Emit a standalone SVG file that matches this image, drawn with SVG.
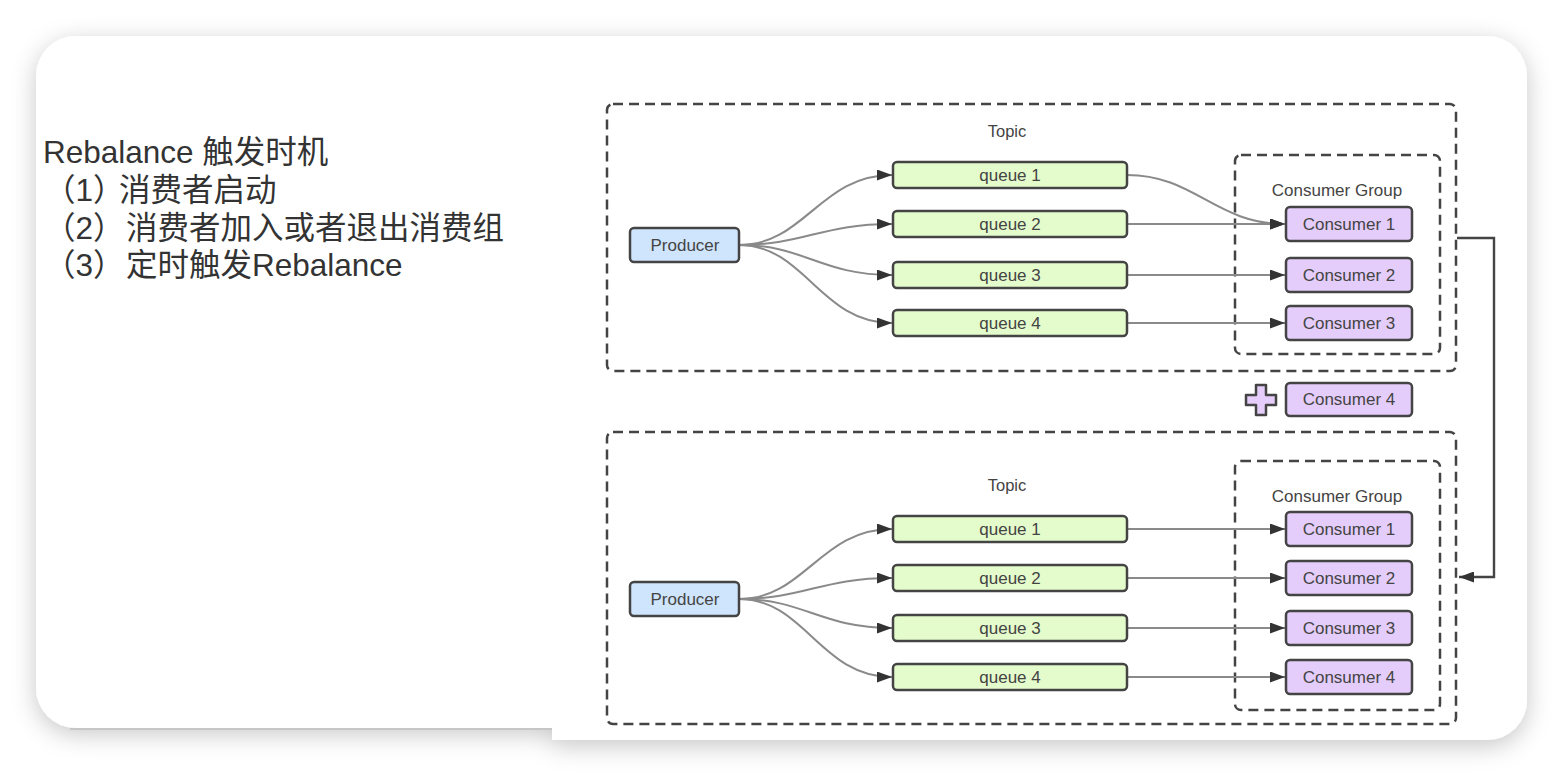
<svg xmlns="http://www.w3.org/2000/svg" width="1564" height="776" viewBox="0 0 1564 776">
<style>
.t{font-family:"Liberation Sans","Noto Sans CJK SC",sans-serif;font-size:31.5px;fill:#333}
.lbl{font-family:"Liberation Sans",Arial,sans-serif;font-size:17px;fill:#444;text-anchor:middle;dominant-baseline:central}
.dash{fill:none;stroke:#444;stroke-width:2.5;stroke-dasharray:10 6}
.prod{fill:#cfe4fd;stroke:#444;stroke-width:2.5}
.queue{fill:#e4fbcc;stroke:#444;stroke-width:2.5}
.cons{fill:#e4cdfb;stroke:#444;stroke-width:2.5}
.edge{fill:none;stroke:#8a8a8a;stroke-width:2}
.link{fill:none;stroke:#444;stroke-width:2.4}
</style>
<defs>
<filter id="sh" x="-5%" y="-10%" width="110%" height="125%">
<feDropShadow dx="0" dy="6" stdDeviation="12" flood-color="#000" flood-opacity="0.22"/>
</filter>
<marker id="ah" viewBox="0 0 15 11" refX="15" refY="5.5" markerWidth="15" markerHeight="11" markerUnits="userSpaceOnUse" orient="auto">
<path d="M0,0 L15,5.5 L0,11 Z" fill="#333"/>
</marker>
</defs>
<rect width="1564" height="776" fill="#ffffff"/>
<path d="M76 36 H1487 A40 40 0 0 1 1527 76 V700 A40 40 0 0 1 1487 740 H552 V728 H76 A40 40 0 0 1 36 688 V76 A40 40 0 0 1 76 36 Z" fill="#ffffff" filter="url(#sh)"/>
<line x1="70" y1="729" x2="552" y2="729" stroke="#c6c6c6" stroke-width="2"/>

<g id="caption">
<text class="t" x="43" y="163">Rebalance 触发时机</text>
<text class="t" y="201"><tspan x="44">（1）</tspan><tspan x="119">消费者启动</tspan></text>
<text class="t" y="239"><tspan x="44">（2）</tspan><tspan x="126">消费者加入或者退出消费组</tspan></text>
<text class="t" y="276"><tspan x="44">（3）</tspan><tspan x="126">定时触发Rebalance</tspan></text>
</g>

<g id="topic-top">
<rect class="dash" x="607" y="104" width="849" height="267" rx="6"/>
<text class="lbl" x="1007" y="131" style="font-size:16.5px">Topic</text>
</g>
<g id="group-top">
<rect class="dash" x="1235" y="155" width="205" height="199" rx="6"/>
<text class="lbl" x="1337" y="190">Consumer Group</text>
</g>
<g id="topic-bottom">
<rect class="dash" x="607" y="432" width="849" height="292" rx="6"/>
<text class="lbl" x="1007" y="485" style="font-size:16.5px">Topic</text>
</g>
<g id="group-bottom">
<rect class="dash" x="1235" y="461" width="205" height="249" rx="6"/>
<text class="lbl" x="1337" y="496">Consumer Group</text>
</g>

<g id="connectors">
<path class="edge" d="M739,245 C805,245 820,175 892,175" marker-end="url(#ah)"/>
<path class="edge" d="M739,245 C805,245 820,224 892,224" marker-end="url(#ah)"/>
<path class="edge" d="M739,245 C805,245 820,275 892,275" marker-end="url(#ah)"/>
<path class="edge" d="M739,245 C805,245 820,323 892,323" marker-end="url(#ah)"/>
<path class="edge" d="M1127,175 C1195,175 1215,224 1285,224" marker-end="url(#ah)"/>
<path class="edge" d="M1127,224 H1285" marker-end="url(#ah)"/>
<path class="edge" d="M1127,275 H1285" marker-end="url(#ah)"/>
<path class="edge" d="M1127,323 H1285" marker-end="url(#ah)"/>
<path class="edge" d="M739,599 C805,599 820,529 892,529" marker-end="url(#ah)"/>
<path class="edge" d="M739,599 C805,599 820,578 892,578" marker-end="url(#ah)"/>
<path class="edge" d="M739,599 C805,599 820,628 892,628" marker-end="url(#ah)"/>
<path class="edge" d="M739,599 C805,599 820,677 892,677" marker-end="url(#ah)"/>
<path class="edge" d="M1127,529 H1285" marker-end="url(#ah)"/>
<path class="edge" d="M1127,578 H1285" marker-end="url(#ah)"/>
<path class="edge" d="M1127,628 H1285" marker-end="url(#ah)"/>
<path class="edge" d="M1127,677 H1285" marker-end="url(#ah)"/>
<path class="link" d="M1457,238 H1494 V577 H1459" marker-end="url(#ah)"/>
</g>

<g id="producer-top"><rect class="prod" x="630" y="228" width="109" height="34" rx="4"/><text class="lbl" x="685" y="245">Producer</text></g>
<g id="queue1-top"><rect class="queue" x="893" y="162" width="234" height="26" rx="4"/><text class="lbl" x="1010" y="175">queue 1</text></g>
<g id="queue2-top"><rect class="queue" x="893" y="211" width="234" height="26" rx="4"/><text class="lbl" x="1010" y="224">queue 2</text></g>
<g id="queue3-top"><rect class="queue" x="893" y="262" width="234" height="26" rx="4"/><text class="lbl" x="1010" y="275">queue 3</text></g>
<g id="queue4-top"><rect class="queue" x="893" y="310" width="234" height="26" rx="4"/><text class="lbl" x="1010" y="323">queue 4</text></g>
<g id="consumer1-top"><rect class="cons" x="1286" y="207" width="126" height="34" rx="4"/><text class="lbl" x="1349" y="224">Consumer 1</text></g>
<g id="consumer2-top"><rect class="cons" x="1286" y="258" width="126" height="34" rx="4"/><text class="lbl" x="1349" y="275">Consumer 2</text></g>
<g id="consumer3-top"><rect class="cons" x="1286" y="306" width="126" height="34" rx="4"/><text class="lbl" x="1349" y="323">Consumer 3</text></g>

<g id="plus"><path d="M1256,385 H1266 V395 H1276 V405 H1266 V415 H1256 V405 H1246 V395 H1256 Z" fill="#e4cdfb" stroke="#444" stroke-width="2.5" stroke-linejoin="round"/></g>
<g id="consumer4-new"><rect class="cons" x="1286" y="383" width="126" height="33" rx="4"/><text class="lbl" x="1349" y="399.5">Consumer 4</text></g>

<g id="producer-bottom"><rect class="prod" x="630" y="582" width="109" height="34" rx="4"/><text class="lbl" x="685" y="599">Producer</text></g>
<g id="queue1-bottom"><rect class="queue" x="893" y="516" width="234" height="26" rx="4"/><text class="lbl" x="1010" y="529">queue 1</text></g>
<g id="queue2-bottom"><rect class="queue" x="893" y="565" width="234" height="26" rx="4"/><text class="lbl" x="1010" y="578">queue 2</text></g>
<g id="queue3-bottom"><rect class="queue" x="893" y="615" width="234" height="26" rx="4"/><text class="lbl" x="1010" y="628">queue 3</text></g>
<g id="queue4-bottom"><rect class="queue" x="893" y="664" width="234" height="26" rx="4"/><text class="lbl" x="1010" y="677">queue 4</text></g>
<g id="consumer1-bottom"><rect class="cons" x="1286" y="512" width="126" height="34" rx="4"/><text class="lbl" x="1349" y="529">Consumer 1</text></g>
<g id="consumer2-bottom"><rect class="cons" x="1286" y="561" width="126" height="34" rx="4"/><text class="lbl" x="1349" y="578">Consumer 2</text></g>
<g id="consumer3-bottom"><rect class="cons" x="1286" y="611" width="126" height="34" rx="4"/><text class="lbl" x="1349" y="628">Consumer 3</text></g>
<g id="consumer4-bottom"><rect class="cons" x="1286" y="660" width="126" height="34" rx="4"/><text class="lbl" x="1349" y="677">Consumer 4</text></g>
</svg>
